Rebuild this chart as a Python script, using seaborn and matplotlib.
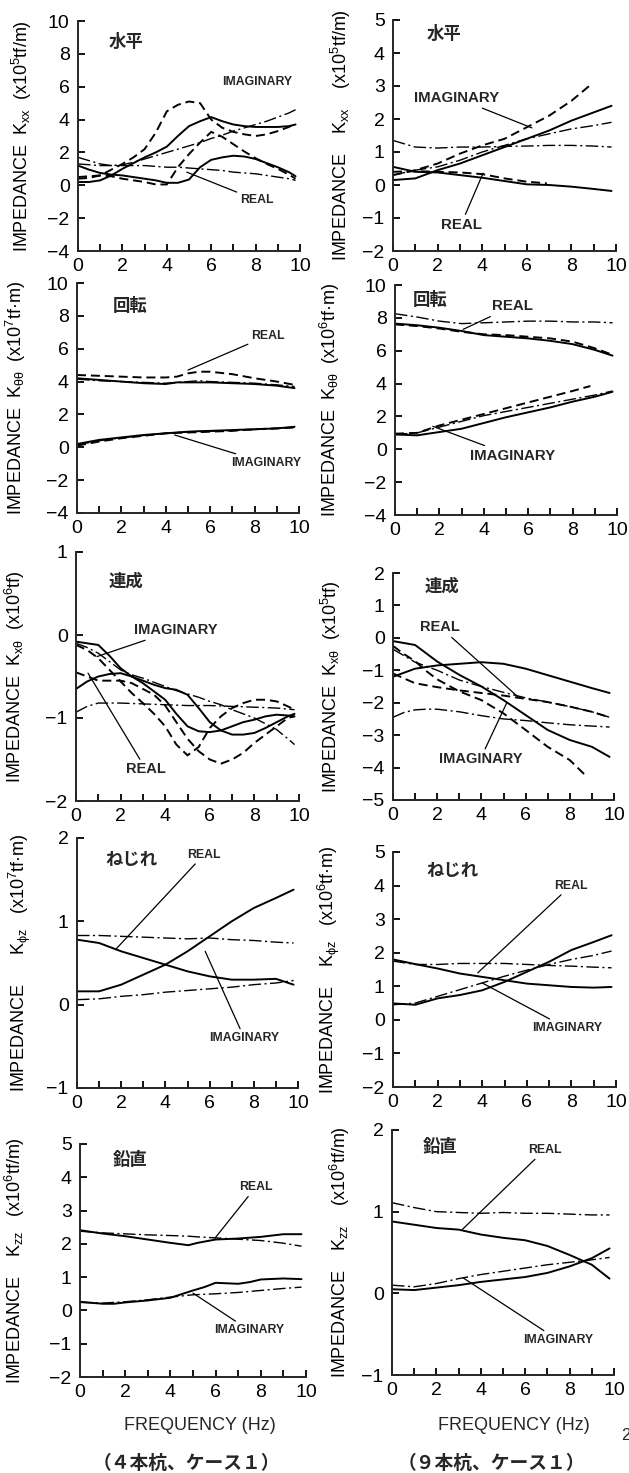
import matplotlib
matplotlib.use("Agg")
import matplotlib.pyplot as plt
import seaborn as sns
import pandas as pd
from matplotlib.ticker import MultipleLocator

# ---------------- data ----------------
X_HALF = [0, 0.5, 1, 1.5, 2, 2.5, 3, 3.5, 4, 4.5, 5, 5.5, 6, 6.5, 7, 7.5, 8, 8.5, 9, 9.5, 9.8]
X_INT = [0, 1, 2, 3, 4, 5, 6, 7, 8, 9, 9.8]

# Row 1 left : Kxx (4 piles)
L1_SOLID_RE = [1.2, 0.95, 0.75, 0.65, 0.6, 0.5, 0.4, 0.3, 0.15, 0.15, 0.35, 1.1, 1.55, 1.7, 1.8, 1.75, 1.6, 1.35, 1.1, 0.8, 0.55]
L1_SOLID_IM = [0.2, 0.2, 0.3, 0.6, 1.0, 1.35, 1.7, 2.0, 2.35, 3.0, 3.6, 3.9, 4.15, 3.9, 3.7, 3.6, 3.55, 3.55, 3.55, 3.6, 3.7]
L1_DASH_IM = [0.4, 0.45, 0.6, 0.95, 1.3, 1.7, 2.2, 3.2, 4.5, 4.9, 5.1, 5.0, 4.0, 3.5, 3.25, 3.1, 3.0, 3.1, 3.3, 3.55, 3.75]
L1_DASH_RE = [0.5, 0.55, 0.6, 0.55, 0.4, 0.3, 0.2, 0.05, 0.05, 1.1, 1.9, 2.6, 3.25, 2.95, 2.5, 2.05, 1.65, 1.3, 1.0, 0.65, 0.4]
L1_DOT_IM = [1.7, 1.5, 1.3, 1.2, 1.25, 1.4, 1.6, 1.8, 2.0, 2.2, 2.4, 2.6, 2.85, 3.05, 3.3, 3.5, 3.7, 3.9, 4.15, 4.4, 4.6]
L1_DOT_RE = [1.3, 1.25, 1.2, 1.2, 1.2, 1.2, 1.2, 1.15, 1.1, 1.1, 1.05, 1.0, 0.95, 0.9, 0.8, 0.75, 0.7, 0.6, 0.5, 0.4, 0.3]

# Row 1 right : Kxx (9 piles)
R1_SOLID_IM = [0.15, 0.2, 0.45, 0.65, 0.9, 1.15, 1.4, 1.65, 1.95, 2.2, 2.4]
R1_DASH_IM_X = [0, 1, 2, 3, 4, 5, 6, 7, 8, 8.8]
R1_DASH_IM = [0.3, 0.45, 0.65, 0.95, 1.2, 1.4, 1.75, 2.1, 2.55, 3.0]
R1_DOT_IM = [0.3, 0.45, 0.55, 0.75, 1.0, 1.2, 1.4, 1.55, 1.7, 1.8, 1.9]
R1_DOT_RE = [1.35, 1.15, 1.12, 1.15, 1.15, 1.17, 1.18, 1.2, 1.2, 1.18, 1.15]
R1_SOLID_RE = [0.55, 0.4, 0.38, 0.3, 0.22, 0.12, 0.02, 0.0, -0.05, -0.12, -0.18]
R1_DASH_RE_X = [0, 1, 2, 3, 4, 5, 6, 6.9]
R1_DASH_RE = [0.4, 0.42, 0.4, 0.38, 0.33, 0.2, 0.1, 0.05]

# Row 2 left : Ktt (4 piles)
X_L2 = [0, 1, 2, 3, 4, 4.5, 5, 5.5, 6, 7, 8, 9, 9.8]
L2_DASH_RE = [4.4, 4.35, 4.3, 4.25, 4.25, 4.3, 4.5, 4.6, 4.6, 4.45, 4.2, 4.0, 3.8]
L2_SOLID_RE = [4.2, 4.1, 4.0, 3.9, 3.85, 3.95, 3.95, 3.95, 3.95, 3.9, 3.85, 3.75, 3.6]
L2_DOT_RE = [4.15, 4.05, 4.0, 3.95, 3.9, 3.95, 4.0, 4.05, 4.0, 3.95, 3.9, 3.8, 3.7]
L2_SOLID_IM = [0.2, 0.45, 0.6, 0.75, 0.85, 0.9, 0.95, 0.98, 1.0, 1.05, 1.1, 1.15, 1.25]
L2_DASH_IM = [0.1, 0.35, 0.55, 0.7, 0.85, 0.88, 0.9, 0.92, 0.95, 1.0, 1.1, 1.15, 1.2]
L2_DOT_IM = [0.15, 0.4, 0.58, 0.72, 0.85, 0.9, 0.93, 0.95, 0.98, 1.02, 1.08, 1.15, 1.22]

# Row 2 right : Ktt (9 piles)
R2_DOT_RE = [8.25, 8.05, 7.8, 7.65, 7.7, 7.75, 7.8, 7.8, 7.75, 7.75, 7.7]
R2_SOLID_RE = [7.65, 7.55, 7.4, 7.2, 6.95, 6.85, 6.75, 6.6, 6.4, 6.05, 5.7]
R2_DASH_RE = [7.6, 7.5, 7.35, 7.15, 7.0, 6.95, 6.85, 6.75, 6.55, 6.15, 5.75]
R2_DASH_IM_X = [0, 1, 2, 3, 4, 5, 6, 7, 8, 8.8]
R2_DASH_IM = [0.95, 1.0, 1.45, 1.8, 2.15, 2.5, 2.85, 3.2, 3.55, 3.85]
R2_DOT_IM = [0.9, 1.0, 1.35, 1.7, 2.05, 2.3, 2.55, 2.8, 3.05, 3.3, 3.55]
R2_SOLID_IM = [0.9, 0.85, 1.05, 1.25, 1.6, 1.95, 2.25, 2.55, 2.9, 3.2, 3.5]

# Row 3 left : Kxt (4 piles)
L3_SOLID_A = [-0.08, -0.1, -0.12, -0.25, -0.4, -0.5, -0.58, -0.68, -0.78, -0.95, -1.1, -1.16, -1.17, -1.15, -1.1, -1.05, -1.02, -0.98, -0.96, -0.97, -0.98]
L3_SOLID_B = [-0.65, -0.56, -0.5, -0.47, -0.46, -0.5, -0.55, -0.6, -0.64, -0.66, -0.72, -0.88, -1.05, -1.15, -1.2, -1.2, -1.18, -1.12, -1.05, -0.98, -0.95]
L3_DASH_A = [-0.12, -0.18, -0.28, -0.42, -0.56, -0.7, -0.82, -0.95, -1.1, -1.32, -1.45, -1.35, -1.12, -0.98, -0.88, -0.82, -0.78, -0.78, -0.8, -0.86, -0.9]
L3_DASH_B = [-0.45, -0.5, -0.55, -0.55, -0.55, -0.58, -0.65, -0.72, -0.85, -1.05, -1.25, -1.4, -1.5, -1.55, -1.5, -1.42, -1.3, -1.2, -1.1, -1.0, -0.98]
L3_DOT_A = [-0.1, -0.15, -0.22, -0.32, -0.42, -0.48, -0.52, -0.57, -0.62, -0.67, -0.71, -0.75, -0.8, -0.84, -0.9, -0.95, -1.0, -1.07, -1.14, -1.25, -1.32]
L3_DOT_B_X = [0, 0.5, 1, 2, 3, 4, 5, 6, 7, 8, 9, 9.8]
L3_DOT_B = [-0.93, -0.86, -0.82, -0.82, -0.83, -0.84, -0.85, -0.85, -0.86, -0.87, -0.88, -0.9]

# Row 3 right : Kxt (9 piles)
R3_SOLID_A = [-1.2, -0.95, -0.85, -0.8, -0.75, -0.8, -0.95, -1.15, -1.35, -1.55, -1.7]
R3_SOLID_B = [-0.1, -0.22, -0.73, -1.14, -1.5, -1.92, -2.38, -2.84, -3.15, -3.36, -3.67]
R3_DOT_A = [-0.35, -0.75, -1.0, -1.3, -1.5, -1.68, -1.85, -1.98, -2.12, -2.28, -2.45]
R3_DASH_A = [-1.1, -1.4, -1.52, -1.62, -1.7, -1.78, -1.88, -1.98, -2.12, -2.28, -2.45]
R3_DASH_B_X = [0, 0.5, 1, 1.5, 2, 3, 4, 5, 6, 7, 8, 8.8]
R3_DASH_B = [-0.25, -0.5, -0.72, -1.02, -1.28, -1.65, -1.92, -2.33, -2.84, -3.36, -3.77, -4.3]
R3_DOT_B_X = [0, 0.5, 1, 1.5, 2, 3, 4, 5, 6, 7, 8, 9, 9.8]
R3_DOT_B = [-2.45, -2.3, -2.22, -2.2, -2.2, -2.28, -2.4, -2.5, -2.55, -2.62, -2.68, -2.72, -2.75]

# Row 4 left : Kfz (4 piles)
L4_SOLID_IM = [0.16, 0.16, 0.24, 0.36, 0.48, 0.64, 0.82, 1.0, 1.16, 1.28, 1.38]
L4_SOLID_RE = [0.78, 0.74, 0.64, 0.56, 0.48, 0.4, 0.34, 0.3, 0.3, 0.31, 0.24]
L4_DOT_RE = [0.83, 0.83, 0.82, 0.81, 0.8, 0.79, 0.8, 0.78, 0.77, 0.75, 0.74]
L4_DOT_IM = [0.06, 0.07, 0.1, 0.12, 0.15, 0.17, 0.19, 0.21, 0.24, 0.26, 0.29]

# Row 4 right : Kfz (9 piles)
R4_SOLID_RE = [1.8, 1.66, 1.53, 1.38, 1.28, 1.18, 1.08, 1.03, 0.98, 0.96, 0.98]
R4_DOT_RE = [1.75, 1.65, 1.65, 1.68, 1.68, 1.68, 1.65, 1.62, 1.6, 1.57, 1.55]
R4_SOLID_IM = [0.49, 0.45, 0.64, 0.74, 0.88, 1.13, 1.43, 1.73, 2.08, 2.32, 2.52]
R4_DOT_IM = [0.45, 0.5, 0.7, 0.9, 1.1, 1.3, 1.48, 1.65, 1.8, 1.92, 2.05]

# Row 5 left : Kzz (4 piles)
X_L5 = [0, 1, 2, 3, 4, 4.8, 5.2, 6, 7, 8, 9, 9.8]
L5_SOLID_RE = [2.41, 2.31, 2.23, 2.13, 2.03, 1.96, 2.03, 2.13, 2.16, 2.21, 2.29, 2.29]
L5_DOT_RE = [2.38, 2.33, 2.3, 2.27, 2.25, 2.23, 2.21, 2.18, 2.14, 2.1, 2.02, 1.93]
L5_SOLID_IM_X = [0, 1, 1.5, 2, 3, 4, 5, 5.5, 6, 7, 7.5, 8, 9, 9.8]
L5_SOLID_IM = [0.26, 0.2, 0.2, 0.24, 0.3, 0.38, 0.6, 0.7, 0.83, 0.8, 0.85, 0.93, 0.96, 0.94]
L5_DOT_IM = [0.24, 0.22, 0.26, 0.32, 0.4, 0.47, 0.5, 0.54, 0.6, 0.66, 0.7]

# Row 5 right : Kzz (9 piles)
R5_DOT_RE = [1.11, 1.05, 1.0, 0.99, 0.98, 0.99, 0.98, 0.98, 0.97, 0.96, 0.96]
R5_SOLID_RE = [0.88, 0.84, 0.8, 0.78, 0.72, 0.68, 0.65, 0.58, 0.47, 0.35, 0.18]
R5_SOLID_IM = [0.05, 0.04, 0.07, 0.1, 0.14, 0.17, 0.2, 0.25, 0.33, 0.43, 0.55]
R5_DOT_IM = [0.1, 0.08, 0.12, 0.18, 0.23, 0.27, 0.31, 0.35, 0.38, 0.41, 0.44]

X_TICKS = [0, 2, 4, 6, 8, 10]
TITLES = ["水平", "回転", "連成", "ねじれ", "鉛直"]
CAPTIONS = ["（４本杭、ケース１）", "（９本杭、ケース１）"]
XLABEL = "FREQUENCY (Hz)"

# ---------------- style ----------------
sns.set_theme(style="ticks")
plt.rcParams["font.family"] = ["Liberation Sans", "Noto Sans CJK JP", "DejaVu Sans"]
plt.rcParams["mathtext.fontset"] = "custom"
plt.rcParams["mathtext.rm"] = "Liberation Sans"
plt.rcParams["mathtext.it"] = "Liberation Sans:italic"
plt.rcParams["mathtext.default"] = "regular"
plt.rcParams["lines.scale_dashes"] = False
plt.rcParams["axes.linewidth"] = 1.4

STYLES = {
    "solid": dict(linestyle="-", linewidth=1.4),
    "dash": dict(linestyle=(0, (6.5, 3.5)), linewidth=1.4),
    "dot": dict(linestyle=(0, (9, 2.5, 1.5, 2.5)), linewidth=1.0),
}

W, H = 629, 1473
fig = plt.figure(figsize=(W / 100, H / 100), dpi=100)


def rect(l, r, t, b):
    return [l / W, 1 - b / H, (r - l) / W, (b - t) / H]


panels = [
    dict(rect=rect(78, 300, 21, 251), ylim=(-4, 10), ystep=2, lab_x=-0.2,
         ylabel="IMPEDANCE  K$_{xx}$  (x10$^{5}$tf/m)", title=TITLES[0], tpos=(0.14, 0.91),
         curves=[(X_HALF, L1_SOLID_RE, "solid"), (X_HALF, L1_SOLID_IM, "solid"),
                 (X_HALF, L1_DASH_IM, "dash"), (X_HALF, L1_DASH_RE, "dash"),
                 (X_HALF, L1_DOT_IM, "dot"), (X_HALF, L1_DOT_RE, "dot")],
         notes=[("IMAGINARY", (8.06, 6.3), None, 8.8), ("REAL", (8.05, -0.9), (4.9, 0.8), 8.8)]),
    dict(rect=rect(393, 616, 20, 251), ylim=(-2, 5), ystep=1, lab_x=-0.18,
         ylabel="IMPEDANCE    K$_{xx}$    (x10$^{5}$tf/m)", title=TITLES[0], tpos=(0.15, 0.94),
         curves=[(X_INT, R1_SOLID_IM, "solid"), (R1_DASH_IM_X, R1_DASH_IM, "dash"),
                 (X_INT, R1_DOT_IM, "dot"), (X_INT, R1_DOT_RE, "dot"),
                 (X_INT, R1_SOLID_RE, "solid"), (R1_DASH_RE_X, R1_DASH_RE, "dash")],
         notes=[("IMAGINARY", (2.85, 2.64), (6.23, 1.73), 10.8), ("REAL", (3.05, -1.2), (4.04, 0.36), 10.8)]),
    dict(rect=rect(77, 299, 283, 513), ylim=(-4, 10), ystep=2, lab_x=-0.22,
         ylabel="IMPEDANCE  K$_{\\theta\\theta}$  (x10$^{7}$tf·m)", title=TITLES[1], tpos=(0.16, 0.9),
         curves=[(X_L2, L2_DASH_RE, "dash"), (X_L2, L2_SOLID_RE, "solid"), (X_L2, L2_DOT_RE, "dot"),
                 (X_L2, L2_SOLID_IM, "solid"), (X_L2, L2_DASH_IM, "dash"), (X_L2, L2_DOT_IM, "dot")],
         notes=[("REAL", (8.6, 6.8), (5.0, 4.7), 8.8), ("IMAGINARY", (8.5, -0.96), (4.4, 0.75), 8.8)]),
    dict(rect=rect(395, 617, 285, 515), ylim=(-4, 10), ystep=2, lab_x=-0.24,
         ylabel="IMPEDANCE  K$_{\\theta\\theta}$  (x10$^{6}$tf·m)", title=TITLES[1], tpos=(0.08, 0.935),
         curves=[(X_INT, R2_DOT_RE, "dot"), (X_INT, R2_SOLID_RE, "solid"), (X_INT, R2_DASH_RE, "dash"),
                 (R2_DASH_IM_X, R2_DASH_IM, "dash"), (X_INT, R2_DOT_IM, "dot"), (X_INT, R2_SOLID_IM, "solid")],
         notes=[("REAL", (5.28, 8.7), (3.07, 7.3), 10.8), ("IMAGINARY", (5.28, -0.4), (1.7, 1.4), 10.8)]),
    dict(rect=rect(76, 299, 552, 801), ylim=(-2, 1), ystep=1, lab_x=-0.22,
         ylabel="IMPEDANCE  K$_{x\\theta}$  (x10$^{6}$tf)", title=TITLES[2], tpos=(0.145, 0.88),
         curves=[(X_HALF, L3_SOLID_A, "solid"), (X_HALF, L3_SOLID_B, "solid"),
                 (X_HALF, L3_DASH_A, "dash"), (X_HALF, L3_DASH_B, "dash"),
                 (X_HALF, L3_DOT_A, "dot"), (L3_DOT_B_X, L3_DOT_B, "dot")],
         notes=[("IMAGINARY", (4.46, 0.06), (0.94, -0.26), 10.5), ("REAL", (3.14, -1.62), (0.54, -0.46), 10.5)]),
    dict(rect=rect(393, 614, 573, 800), ylim=(-5, 2), ystep=1, lab_x=-0.225,
         ylabel="IMPEDANCE  K$_{x\\theta}$  (x10$^{5}$tf)", title=TITLES[2], tpos=(0.145, 0.94),
         curves=[(X_INT, R3_SOLID_A, "solid"), (X_INT, R3_SOLID_B, "solid"),
                 (X_INT, R3_DOT_A, "dot"), (X_INT, R3_DASH_A, "dash"),
                 (R3_DASH_B_X, R3_DASH_B, "dash"), (R3_DOT_B_X, R3_DOT_B, "dot")],
         notes=[("REAL", (2.14, 0.33), (5.67, -1.83), 10.5), ("IMAGINARY", (3.95, -3.74), (5.15, -2.0), 10.5)]),
    dict(rect=rect(77, 298, 838, 1088), ylim=(-1, 2), ystep=1, lab_x=-0.2,
         ylabel="IMPEDANCE      K$_{\\phi z}$   (x10$^{7}$tf·m)", title=TITLES[3], tpos=(0.127, 0.91),
         curves=[(X_INT, L4_SOLID_IM, "solid"), (X_INT, L4_SOLID_RE, "solid"),
                 (X_INT, L4_DOT_RE, "dot"), (X_INT, L4_DOT_IM, "dot")],
         notes=[("REAL", (5.74, 1.8), (1.74, 0.66), 8.8), ("IMAGINARY", (7.57, -0.4), (5.8, 0.64), 8.8)]),
    dict(rect=rect(393, 616, 852, 1087), ylim=(-2, 5), ystep=1, lab_x=-0.23,
         ylabel="IMPEDANCE    K$_{\\phi z}$   (x10$^{6}$tf·m)", title=TITLES[3], tpos=(0.15, 0.92),
         curves=[(X_INT, R4_SOLID_RE, "solid"), (X_INT, R4_DOT_RE, "dot"),
                 (X_INT, R4_SOLID_IM, "solid"), (X_INT, R4_DOT_IM, "dot")],
         notes=[("REAL", (7.98, 4.0), (3.8, 1.4), 8.8), ("IMAGINARY", (7.8, -0.25), (4.0, 1.1), 8.8)]),
    dict(rect=rect(80, 306, 1144, 1377), ylim=(-2, 5), ystep=1, lab_x=-0.235,
         ylabel="IMPEDANCE    K$_{zz}$   (x10$^{6}$tf/m)", title=TITLES[4], tpos=(0.146, 0.93),
         curves=[(X_L5, L5_SOLID_RE, "solid"), (X_L5, L5_DOT_RE, "dot"),
                 (L5_SOLID_IM_X, L5_SOLID_IM, "solid"), (X_INT, L5_DOT_IM, "dot")],
         notes=[("REAL", (7.77, 3.7), (5.97, 2.17), 8.8), ("IMAGINARY", (7.5, -0.6), (5.0, 0.52), 8.8)]),
    dict(rect=rect(392, 614, 1130, 1375), ylim=(-1, 2), ystep=1, lab_x=-0.18,
         ylabel="IMPEDANCE    K$_{zz}$    (x10$^{6}$tf/m)", title=TITLES[4], tpos=(0.14, 0.93),
         curves=[(X_INT, R5_DOT_RE, "dot"), (X_INT, R5_SOLID_RE, "solid"),
                 (X_INT, R5_SOLID_IM, "solid"), (X_INT, R5_DOT_IM, "dot")],
         notes=[("REAL", (6.87, 1.755), (3.16, 0.78), 8.8), ("IMAGINARY", (7.48, -0.57), (3.2, 0.19), 8.8)]),
]

for p in panels:
    ax = fig.add_axes(p["rect"])
    for xs, ys, st in p["curves"]:
        df = pd.DataFrame({"f": xs, "v": ys})
        sns.lineplot(data=df, x="f", y="v", ax=ax, color="black", estimator=None,
                     sort=False, errorbar=None, **STYLES[st])
    lo, hi = p["ylim"]
    ax.set_xlim(0, 10)
    ax.set_ylim(lo, hi)
    ax.set_xticks(X_TICKS)
    ax.xaxis.set_minor_locator(MultipleLocator(1))
    ax.yaxis.set_major_locator(MultipleLocator(p["ystep"]))
    for s in ("top", "right"):
        ax.spines[s].set_visible(False)
    ax.tick_params(which="both", direction="in", length=5, width=1.3, colors="black")
    ax.tick_params(axis="x", which="major", labelsize=14, pad=5)
    ax.tick_params(axis="y", which="major", labelsize=14, pad=6)
    ax.set_xlabel("")
    ax.set_ylabel(p["ylabel"], fontsize=13, color="black")
    ax.yaxis.set_label_coords(p["lab_x"], 0.5)
    ax.text(p["tpos"][0], p["tpos"][1], p["title"], transform=ax.transAxes,
            ha="left", va="center", fontsize=12.5, fontweight="bold",
            family=["Noto Sans CJK JP", "DejaVu Sans"])
    for txt, xy_text, tip, fs in p["notes"]:
        if tip is None:
            ax.text(xy_text[0], xy_text[1], txt, ha="center", va="center",
                    fontsize=fs, fontweight="bold")
        else:
            ax.annotate(txt, xy=tip, xytext=xy_text, ha="center", va="center",
                        fontsize=fs, fontweight="bold",
                        arrowprops=dict(arrowstyle="-", color="black", lw=0.9,
                                        shrinkA=0, shrinkB=0))

fig.text(199.5 / W, 1 - 1425 / H, XLABEL, ha="center", va="center", fontsize=13)
fig.text(513.5 / W, 1 - 1425 / H, XLABEL, ha="center", va="center", fontsize=13)
fig.text(186 / W, 1 - 1463 / H, CAPTIONS[0], ha="center", va="center", fontsize=13.5,
         fontweight="bold", family=["Noto Sans CJK JP", "DejaVu Sans"])
fig.text(491 / W, 1 - 1463 / H, CAPTIONS[1], ha="center", va="center", fontsize=13.5,
         fontweight="bold", family=["Noto Sans CJK JP", "DejaVu Sans"])
fig.text(621 / W, 1 - 1436 / H, "2", ha="left", va="center", fontsize=12)

fig.savefig("out.png", dpi=100, facecolor="white")
